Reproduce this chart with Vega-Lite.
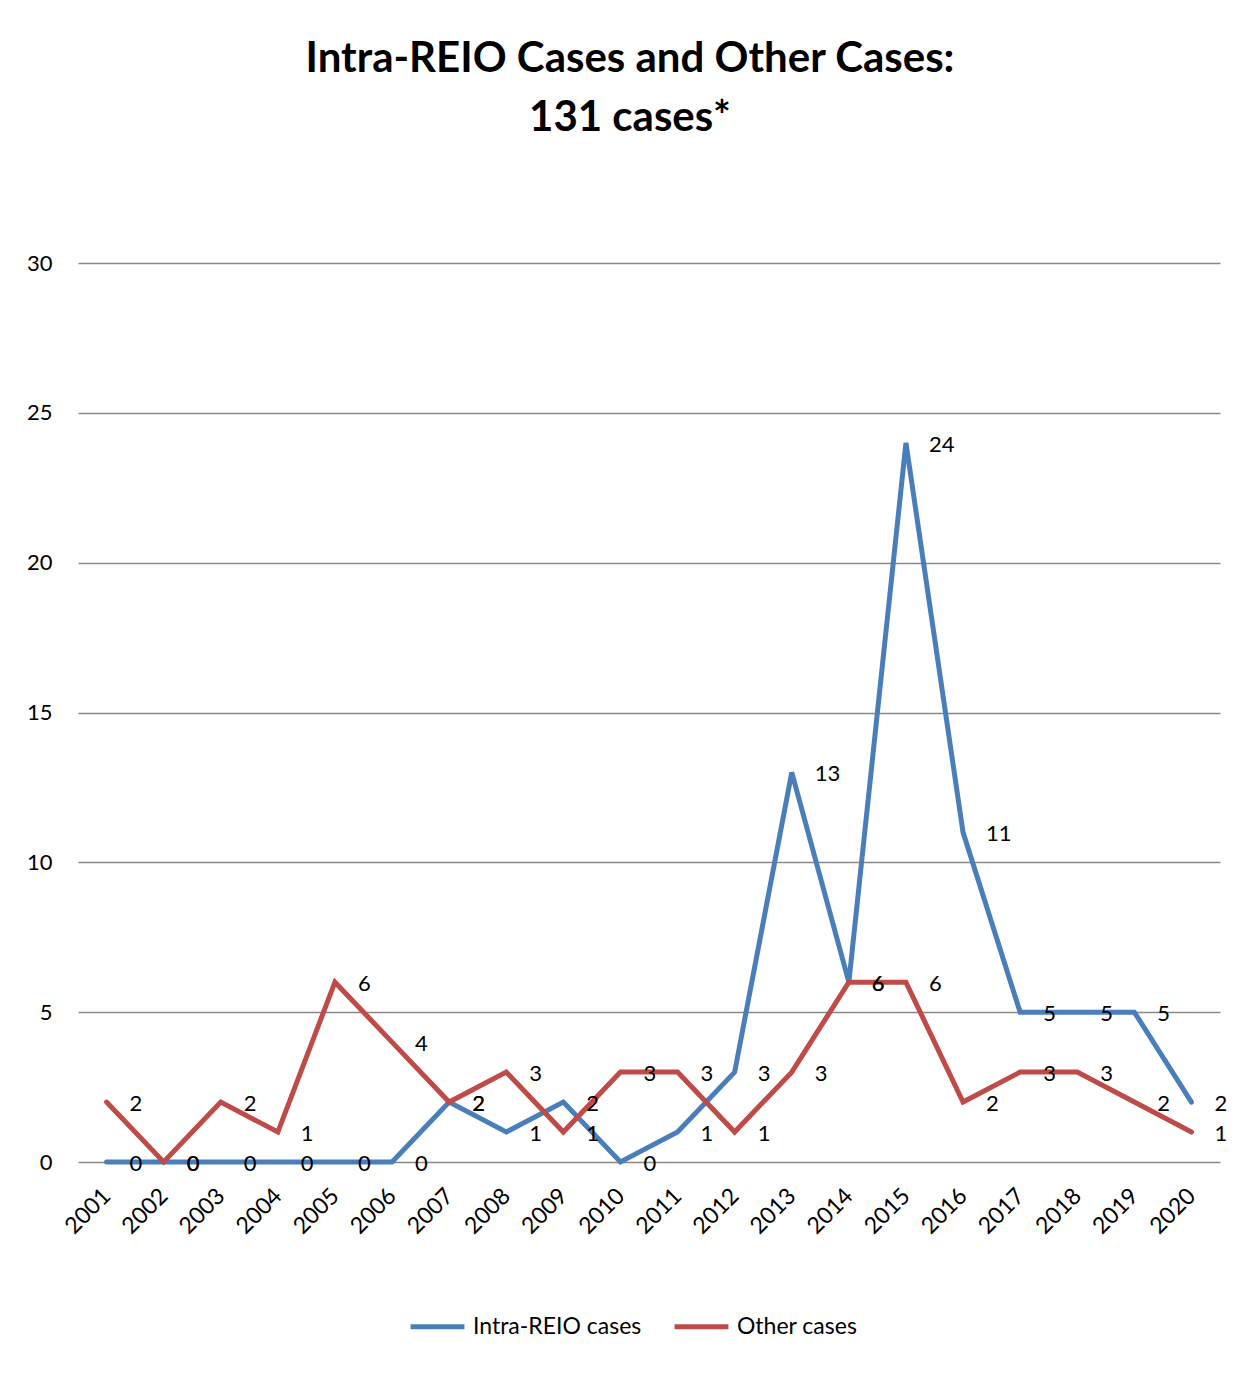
{
  "$schema": "https://vega.github.io/schema/vega-lite/v6.json",
  "width": 1142,
  "height": 899,
  "autosize": {"type": "none"},
  "padding": {"left": 78, "top": 263, "right": 26, "bottom": 232},
  "background": "white",
  "title": {
    "text": ["Intra-REIO Cases and Other Cases:", "131 cases*"],
    "font": "Lato",
    "fontSize": 42,
    "fontWeight": "bold",
    "color": "#000000",
    "anchor": "middle",
    "frame": "group",
    "dx": -19,
    "offset": 112,
    "lineHeight": 59
  },
  "config": {
    "view": {"stroke": null},
    "font": "Lato"
  },
  "data": {
    "values": [
      {"year": "2001", "series": "Intra-REIO cases", "value": 0},
      {"year": "2002", "series": "Intra-REIO cases", "value": 0},
      {"year": "2003", "series": "Intra-REIO cases", "value": 0},
      {"year": "2004", "series": "Intra-REIO cases", "value": 0},
      {"year": "2005", "series": "Intra-REIO cases", "value": 0},
      {"year": "2006", "series": "Intra-REIO cases", "value": 0},
      {"year": "2007", "series": "Intra-REIO cases", "value": 2},
      {"year": "2008", "series": "Intra-REIO cases", "value": 1},
      {"year": "2009", "series": "Intra-REIO cases", "value": 2},
      {"year": "2010", "series": "Intra-REIO cases", "value": 0},
      {"year": "2011", "series": "Intra-REIO cases", "value": 1},
      {"year": "2012", "series": "Intra-REIO cases", "value": 3},
      {"year": "2013", "series": "Intra-REIO cases", "value": 13},
      {"year": "2014", "series": "Intra-REIO cases", "value": 6},
      {"year": "2015", "series": "Intra-REIO cases", "value": 24},
      {"year": "2016", "series": "Intra-REIO cases", "value": 11},
      {"year": "2017", "series": "Intra-REIO cases", "value": 5},
      {"year": "2018", "series": "Intra-REIO cases", "value": 5},
      {"year": "2019", "series": "Intra-REIO cases", "value": 5},
      {"year": "2020", "series": "Intra-REIO cases", "value": 2},
      {"year": "2001", "series": "Other cases", "value": 2},
      {"year": "2002", "series": "Other cases", "value": 0},
      {"year": "2003", "series": "Other cases", "value": 2},
      {"year": "2004", "series": "Other cases", "value": 1},
      {"year": "2005", "series": "Other cases", "value": 6},
      {"year": "2006", "series": "Other cases", "value": 4},
      {"year": "2007", "series": "Other cases", "value": 2},
      {"year": "2008", "series": "Other cases", "value": 3},
      {"year": "2009", "series": "Other cases", "value": 1},
      {"year": "2010", "series": "Other cases", "value": 3},
      {"year": "2011", "series": "Other cases", "value": 3},
      {"year": "2012", "series": "Other cases", "value": 1},
      {"year": "2013", "series": "Other cases", "value": 3},
      {"year": "2014", "series": "Other cases", "value": 6},
      {"year": "2015", "series": "Other cases", "value": 6},
      {"year": "2016", "series": "Other cases", "value": 2},
      {"year": "2017", "series": "Other cases", "value": 3},
      {"year": "2018", "series": "Other cases", "value": 3},
      {"year": "2019", "series": "Other cases", "value": 2},
      {"year": "2020", "series": "Other cases", "value": 1}
    ]
  },
  "encoding": {
    "x": {
      "field": "year",
      "type": "ordinal",
      "scale": {"type": "point", "padding": 0.5},
      "axis": {
        "title": null,
        "domain": false,
        "ticks": false,
        "grid": false,
        "labelAngle": -45,
        "labelAlign": "right",
        "labelBaseline": "middle",
        "labelPadding": 30,
        "labelFont": "Lato",
        "labelFontSize": 23,
        "labelColor": "#000000"
      }
    },
    "y": {
      "field": "value",
      "type": "quantitative",
      "scale": {"domain": [0, 30], "nice": false},
      "axis": {
        "title": null,
        "values": [0, 5, 10, 15, 20, 25, 30],
        "domain": false,
        "ticks": false,
        "grid": true,
        "gridColor": "#888888",
        "gridWidth": 1.5,
        "labelPadding": 26,
        "labelFont": "Lato",
        "labelFontSize": 22,
        "labelColor": "#000000"
      }
    }
  },
  "layer": [
    {
      "mark": {"type": "line", "strokeWidth": 5, "strokeCap": "round", "strokeJoin": "miter"},
      "encoding": {
        "color": {
          "field": "series",
          "type": "nominal",
          "scale": {"domain": ["Intra-REIO cases", "Other cases"], "range": ["#4a7ebb", "#be4b48"]},
          "legend": {
            "title": null,
            "orient": "none",
            "direction": "horizontal",
            "legendX": 330,
            "legendY": 1034,
            "symbolType": "stroke",
            "symbolSize": 2900,
            "symbolStrokeWidth": 5,
            "labelFont": "Lato",
            "labelFontSize": 23,
            "labelColor": "#000000",
            "labelOffset": 6,
            "labelLimit": 400,
            "columnPadding": 22
          }
        }
      }
    },
    {
      "mark": {"type": "text", "align": "left", "baseline": "middle", "dx": 23, "dy": 2, "font": "Lato", "fontSize": 22, "color": "#000000"},
      "encoding": {
        "text": {"field": "value", "type": "quantitative"}
      }
    }
  ]
}
